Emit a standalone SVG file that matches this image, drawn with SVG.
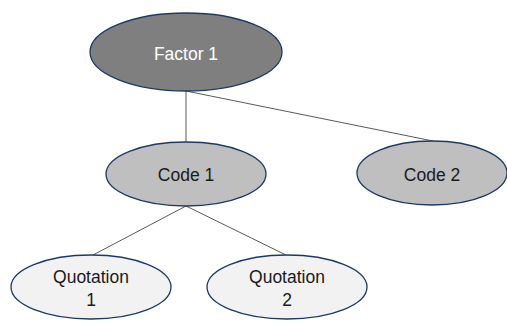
<svg xmlns="http://www.w3.org/2000/svg" width="507" height="321" viewBox="0 0 507 321">
<style>
.n{stroke:#1f3864;stroke-width:1.3}
.f{fill:#7f7f7f}
.c{fill:#bfbfbf}
.q{fill:#f2f2f2}
text{font-family:"Liberation Sans",Arial,sans-serif;font-size:17.5px;text-anchor:middle;fill:#1a1a1a}
.w{fill:#ffffff}
.e{stroke:#595959;stroke-width:1;fill:none}
</style>
<rect width="507" height="321" fill="#ffffff"/>
<g id="connectors">
<line class="e" x1="186" y1="91" x2="186" y2="142"/>
<line class="e" x1="186" y1="91" x2="433" y2="141"/>
<line class="e" x1="186" y1="206" x2="93" y2="255"/>
<line class="e" x1="186" y1="206" x2="286" y2="255"/>
</g>
<g id="factor1">
<ellipse class="n f" cx="186" cy="52" rx="96" ry="39"/>
<text class="w" x="186" y="60">Factor 1</text>
</g>
<g id="code1">
<ellipse class="n c" cx="186" cy="174" rx="80" ry="32"/>
<text x="186" y="181">Code 1</text>
</g>
<g id="code2">
<ellipse class="n c" cx="432" cy="173" rx="75" ry="32"/>
<text x="432" y="181">Code 2</text>
</g>
<g id="quotation1">
<ellipse class="n q" cx="91" cy="287" rx="80" ry="32"/>
<text x="91" y="283">Quotation</text>
<text x="91" y="306">1</text>
</g>
<g id="quotation2">
<ellipse class="n q" cx="287" cy="287" rx="80" ry="32"/>
<text x="287" y="283">Quotation</text>
<text x="287" y="306">2</text>
</g>
</svg>
